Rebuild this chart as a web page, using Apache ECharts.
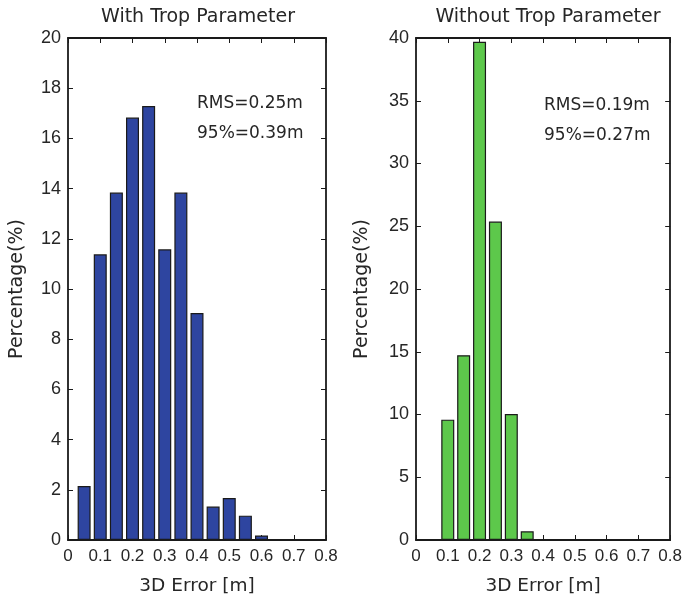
<!DOCTYPE html>
<html>
<head>
<meta charset="utf-8">
<script src="https://cdn.jsdelivr.net/npm/echarts@6/dist/echarts.min.js"></script>
<style>
  html, body { margin: 0; padding: 0; background: #fff; }
  #main { width: 685px; height: 601px; }
</style>
</head>
<body>
<div id="main"></div>
<script>
// bin centres (m) and percentages
var withTropBins = [0.05, 0.1, 0.15, 0.2, 0.25, 0.3, 0.35, 0.4, 0.45, 0.5, 0.55, 0.6];
var withTropPct = [2.15, 11.38, 13.84, 16.83, 17.29, 11.58, 13.84, 9.04, 1.33, 1.67, 0.97, 0.18];
var withoutTropBins = [0.1, 0.15, 0.2, 0.25, 0.3, 0.35];
var withoutTropPct = [9.59, 14.72, 39.7, 25.37, 10.04, 0.69];

var panelTitles = ["With Trop Parameter", "Without Trop Parameter"];
var statsLeft = ["RMS=0.25m", "95%=0.39m"];
var statsRight = ["RMS=0.19m", "95%=0.27m"];

var font = "'Liberation Sans', Arial, sans-serif";
var wide = "'DejaVu Sans', sans-serif";
var ink = "#262626";

function pairs(xs, ys) {
    return xs.map(function (x, i) { return [x, ys[i]]; });
}

function xAxisFor(grid, main) {
    return {
        type: "value", gridIndex: grid, position: main ? "bottom" : "top",
        min: 0, max: 0.8, interval: 0.1,
        name: main ? "3D Error [m]" : "", nameLocation: "middle", nameGap: 37,
        nameTextStyle: { fontFamily: wide, fontSize: 18.5, color: ink },
        axisLine: { show: true, onZero: false, lineStyle: { color: "#1a1a1a", width: 1.8 } },
        axisTick: { show: true, inside: true, length: 5, lineStyle: { color: "#1a1a1a" } },
        axisLabel: { show: main, margin: 8, fontFamily: font, fontSize: 17, color: ink },
        splitLine: { show: false }
    };
}

function yAxisFor(grid, max, step, main, gap) {
    return {
        type: "value", gridIndex: grid, position: main ? "left" : "right",
        min: 0, max: max, interval: step,
        name: main ? "Percentage(%)" : "", nameLocation: "middle", nameGap: gap,
        nameTextStyle: { fontFamily: wide, fontSize: 19, color: ink },
        axisLine: { show: true, onZero: false, lineStyle: { color: "#1a1a1a", width: 1.8 } },
        axisTick: { show: true, inside: true, length: 5, lineStyle: { color: "#1a1a1a" } },
        axisLabel: { show: main, margin: 7, fontFamily: font, fontSize: 18, color: ink },
        splitLine: { show: false }
    };
}

function statText(x, y, s) {
    return {
        type: "text", left: x, top: y,
        style: { text: s, fontFamily: wide, fontSize: 17, fill: ink }
    };
}

var myChart = echarts.init(document.getElementById("main"), null, { width: 685, height: 601 });

var option = {
    backgroundColor: "#fff",
    animation: false,
    title: [
        { text: panelTitles[0], left: 193, top: 3, textAlign: "center",
          textStyle: { fontFamily: wide, fontSize: 19, fontWeight: "normal", color: ink } },
        { text: panelTitles[1], left: 543, top: 3, textAlign: "center",
          textStyle: { fontFamily: wide, fontSize: 19, fontWeight: "normal", color: ink } }
    ],
    grid: [
        { left: 68, top: 38, width: 258, height: 502 },
        { left: 416, top: 38, width: 257, height: 502 }
    ],
    xAxis: [xAxisFor(0, true), xAxisFor(0, false), xAxisFor(1, true), xAxisFor(1, false)],
    yAxis: [
        yAxisFor(0, 20, 2, true, 41), yAxisFor(0, 20, 2, false, 0),
        yAxisFor(1, 40, 5, true, 44), yAxisFor(1, 40, 5, false, 0)
    ],
    graphic: [
        statText(197, 95, statsLeft[0]),
        statText(197, 125, statsLeft[1]),
        statText(544, 97, statsRight[0]),
        statText(544, 127, statsRight[1])
    ],
    series: [
        {
            type: "bar", xAxisIndex: 0, yAxisIndex: 0, barWidth: 13,
            itemStyle: { color: "#2e45a0", borderColor: "#1a1a1a", borderWidth: 1.2 },
            data: pairs(withTropBins, withTropPct)
        },
        {
            type: "bar", xAxisIndex: 2, yAxisIndex: 2, barWidth: 13,
            itemStyle: { color: "#5dc84b", borderColor: "#1a1a1a", borderWidth: 1.2 },
            data: pairs(withoutTropBins, withoutTropPct)
        }
    ]
};

myChart.setOption(option);
</script>
</body>
</html>
